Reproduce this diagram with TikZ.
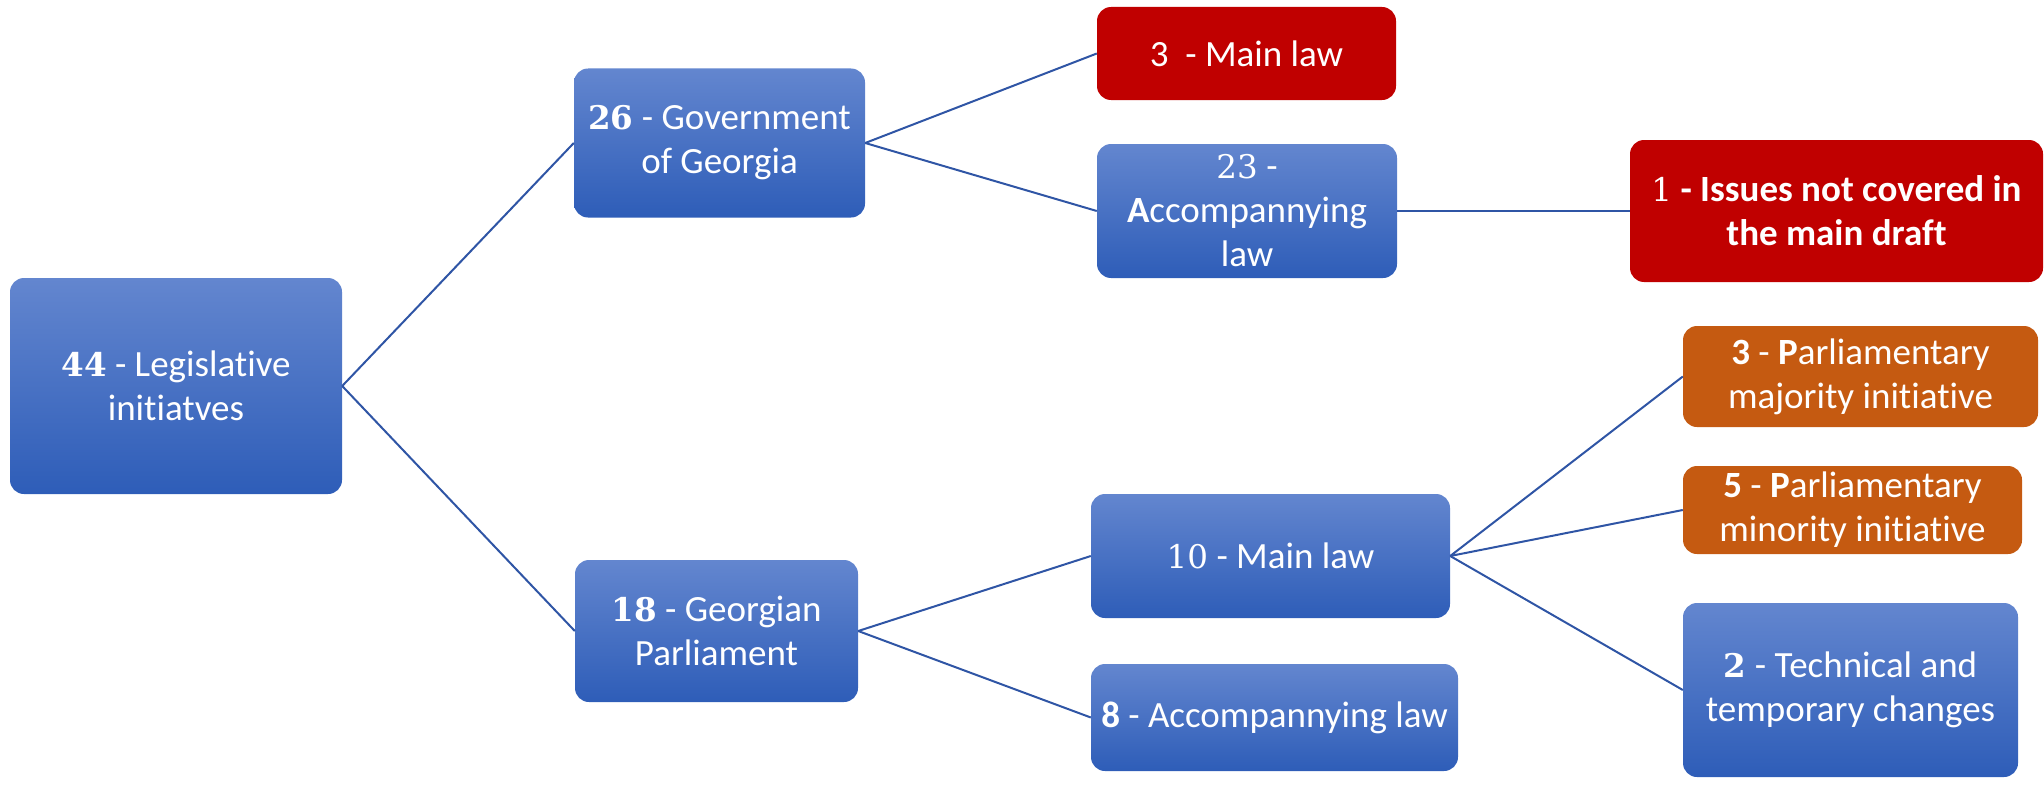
\documentclass[tikz,border=0pt]{standalone}
\usepackage{fontspec}
\setmainfont{Carlito}[Ligatures=NoCommon]
\newfontfamily\cam{DejaVu Serif}[Scale=0.88]
\definecolor{blueT}{RGB}{99,134,207}
\definecolor{blueB}{RGB}{46,93,184}
\definecolor{redbox}{RGB}{192,0,0}
\definecolor{orangebox}{RGB}{197,90,17}
\definecolor{edgeblue}{RGB}{47,85,165}
\begin{document}
\begin{tikzpicture}[x=1pt,y=-1pt,
  box/.style={rectangle, rounded corners=14pt, align=center, text=white, inner sep=0pt,
    font=\fontsize{37}{44}\selectfont},
  bluebox/.style={box, top color=blueT, bottom color=blueB, draw=none},
  redb/.style={box, fill=redbox},
  orangeb/.style={box, fill=orangebox},
  conn/.style={draw=edgeblue, line width=2pt}]
\useasboundingbox (0,0) rectangle (2044,784);
\node[bluebox, minimum width=332pt, minimum height=216pt] (root) at (176,386) {{\cam\bfseries 44} - Legislative\\initiatves};
\node[bluebox, minimum width=291pt, minimum height=149pt] (gov) at (719.5,143) {{\cam\bfseries 26} - Government\\of Georgia};
\node[redb, minimum width=299pt, minimum height=93pt] (mainred) at (1246.5,53.5) {3 \ - Main law};
\node[bluebox, minimum width=300pt, minimum height=134pt] (acc23) at (1247,211) {{\cam 23} -\\{\bfseries A}ccompannying\\law};
\node[redb, minimum width=413pt, minimum height=142pt] (issues) at (1836.5,211) {{\cam 1} {\bfseries - Issues not covered in}\\{\bfseries the main draft}};
\node[bluebox, minimum width=283pt, minimum height=142pt] (parl) at (716.5,631) {{\cam\bfseries 18} - Georgian\\Parliament};
\node[bluebox, minimum width=359pt, minimum height=124pt] (main10) at (1270.5,556) {{\cam 10} - Main law};
\node[bluebox, minimum width=367pt, minimum height=107pt] (acc8) at (1274.5,717.5) {{\bfseries 8} - Accompannying law};
\node[orangeb, minimum width=355pt, minimum height=101pt] (maj) at (1860.5,376.5) {{\bfseries 3} - {\bfseries P}arliamentary\\majority initiative};
\node[orangeb, minimum width=339pt, minimum height=88pt] (min) at (1852.5,510) {{\bfseries 5} - {\bfseries P}arliamentary\\minority initiative};
\node[bluebox, minimum width=335pt, minimum height=174pt] (tech) at (1850.5,690) {{\cam\bfseries 2} - Technical and\\temporary changes};
\draw[conn] (root.east) -- (gov.west);
\draw[conn] (root.east) -- (parl.west);
\draw[conn] (gov.east) -- (mainred.west);
\draw[conn] (gov.east) -- (acc23.west);
\draw[conn] (acc23.east) -- (issues.west);
\draw[conn] (parl.east) -- (main10.west);
\draw[conn] (parl.east) -- (acc8.west);
\draw[conn] (main10.east) -- (maj.west);
\draw[conn] (main10.east) -- (min.west);
\draw[conn] (main10.east) -- (tech.west);
\end{tikzpicture}
\end{document}
